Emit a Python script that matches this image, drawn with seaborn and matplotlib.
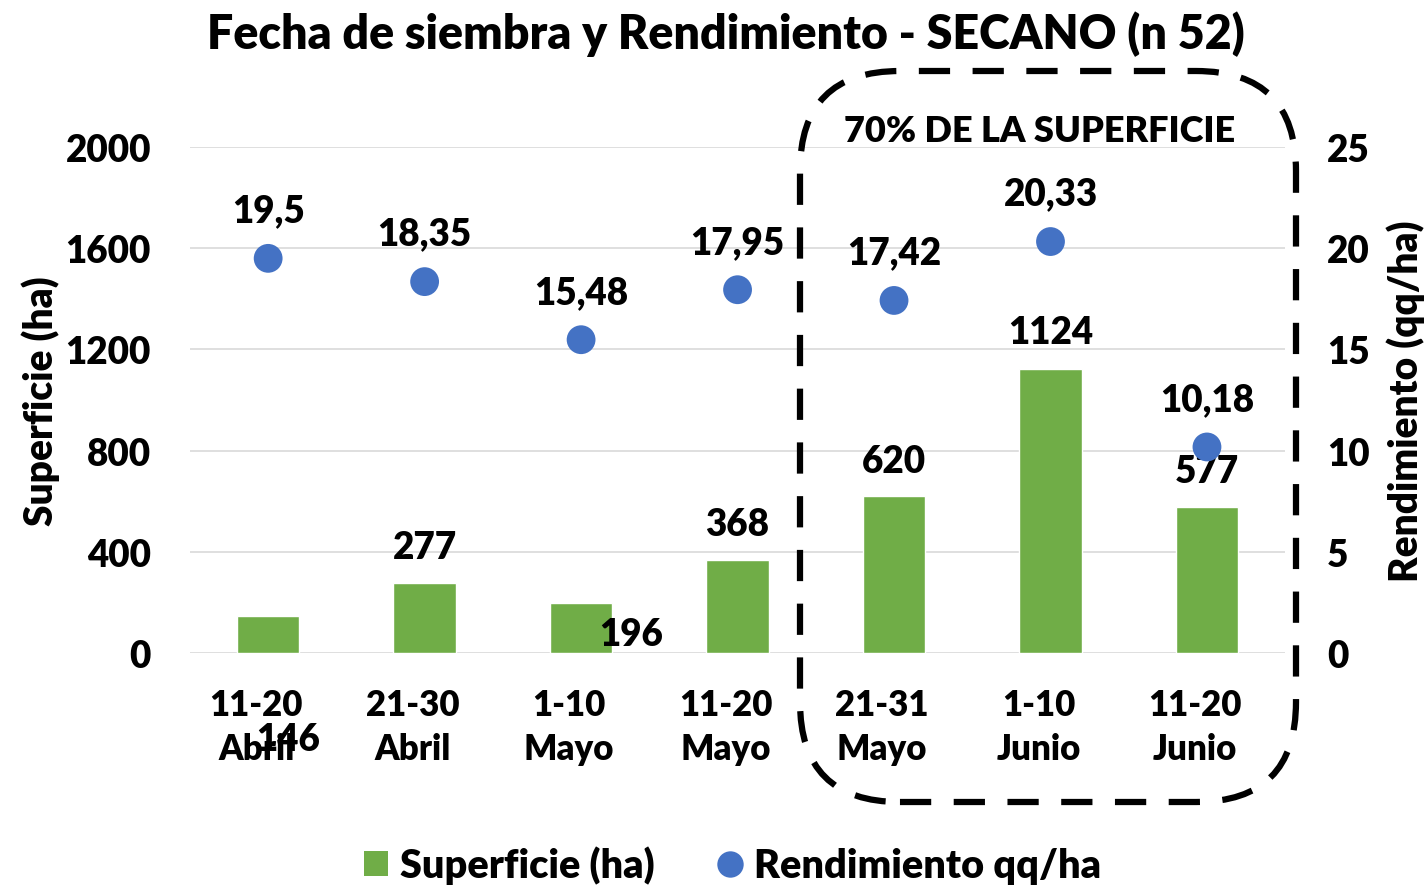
import numpy as np
import pandas as pd
import matplotlib.pyplot as plt
import seaborn as sns
from matplotlib.patches import FancyBboxPatch, Patch
from matplotlib.lines import Line2D
from matplotlib.transforms import ScaledTranslation

# ================== datos ==================
fechas = ["11-20\nAbril", "21-30\nAbril", "1-10\nMayo", "11-20\nMayo",
          "21-31\nMayo", "1-10\nJunio", "11-20\nJunio"]
superficie = [146, 277, 196, 368, 620, 1124, 577]
rendimiento = [19.5, 18.35, 15.48, 17.95, 17.42, 20.33, 10.18]
ticks_sup = [0, 400, 800, 1200, 1600, 2000]
ticks_rend = [0, 5, 10, 15, 20, 25]

VERDE = "#70AD47"
AZUL = "#4472C4"
PESO = 'heavy'
FS_NUM = 26.5

# desplazamientos de etiquetas de barras (px) tal como quedaron en Excel
off_barras = [(20, -123), (0, 36), (50, -31), (0, 36), (0, 35), (0, 37), (0, 36)]

sns.set_theme(style="white")
plt.rcParams['font.family'] = ['Lato', 'DejaVu Sans']
plt.rcParams['font.weight'] = PESO
plt.rcParams['text.color'] = 'black'
plt.rcParams['axes.labelcolor'] = 'black'
plt.rcParams['xtick.color'] = 'black'
plt.rcParams['ytick.color'] = 'black'

df = pd.DataFrame({'fecha': fechas, 'sup': superficie, 'rend': rendimiento})

fig = plt.figure(figsize=(14.28, 8.87), dpi=100)
ax = fig.add_axes([0.133, 0.2627, 0.767, 0.5704])

sns.barplot(data=df, x='fecha', y='sup', color=VERDE, width=0.4,
            saturation=1, ax=ax, zorder=3)
ax.set_ylim(0, 2000)
ax.set_xlim(-0.5, 6.5)
ax.set_yticks(ticks_sup)
ax.set_yticklabels([str(t) for t in ticks_sup])
ax.grid(axis='y', color='#D9D9D9', linewidth=1.2, zorder=0)
ax.set_axisbelow(True)
for s in ax.spines.values():
    s.set_visible(False)
ax.tick_params(axis='x', length=0, labelsize=25, pad=25)
ax.tick_params(axis='y', length=0, labelsize=FS_NUM, pad=28)
for lbl in ax.get_xticklabels():
    lbl.set_linespacing(1.4)
    lbl.set_fontweight(PESO)
    lbl.set_transform(lbl.get_transform() + ScaledTranslation(-12 / 100, 0, fig.dpi_scale_trans))
for lbl in ax.get_yticklabels():
    lbl.set_fontweight(PESO)
ax.set_xlabel('')
ax.set_ylabel('Superficie (ha)', fontsize=28, fontweight=PESO, labelpad=4)

k = 0.72  # px -> pt
for i, (v, (dx, dy)) in enumerate(zip(superficie, off_barras)):
    ax.annotate(str(v), (i, v), xytext=(dx * k, dy * k), textcoords='offset points',
                ha='center', va='center', fontsize=FS_NUM, fontweight=PESO, zorder=5)

ax2 = ax.twinx()
sns.scatterplot(x=np.arange(len(rendimiento)), y=rendimiento, ax=ax2, color=AZUL,
                s=430, edgecolor='none', zorder=4)
ax2.set_ylim(0, 25)
ax2.set_yticks(ticks_rend)
ax2.set_yticklabels([str(t) for t in ticks_rend])
for s in ax2.spines.values():
    s.set_visible(False)
ax2.tick_params(axis='y', length=0, labelsize=FS_NUM, pad=30)
for lbl in ax2.get_yticklabels():
    lbl.set_fontweight(PESO)
ax2.set_ylabel('Rendimiento (qq/ha)', fontsize=28, fontweight=PESO, labelpad=12)
for i, v in enumerate(rendimiento):
    txt = f"{v:g}".replace('.', ',')
    ax2.annotate(txt, (i, v), xytext=(0, 48 * k), textcoords='offset points',
                 ha='center', va='center', fontsize=FS_NUM, fontweight=PESO)

fig.suptitle('Fecha de siembra y Rendimiento - SECANO (n 52)', fontsize=33.5,
             fontweight=PESO, y=0.962, va='center', x=0.508)

# recuadro punteado
caja = FancyBboxPatch((800 / 1428, 1 - 803 / 887), 496 / 1428, 731 / 887,
                      boxstyle="round,pad=0,rounding_size=0.07",
                      transform=fig.transFigure, fill=False, edgecolor='black',
                      linewidth=4.5, linestyle=(0, (5, 3.6)), mutation_aspect=1428 / 887)
fig.patches.append(caja)
fig.text(1040 / 1428, 1 - 132 / 887, '70% DE LA SUPERFICIE', ha='center', va='center',
         fontsize=26, fontweight=PESO)

handles = [Patch(facecolor=VERDE, edgecolor='none', label='Superficie (ha)'),
           Line2D([], [], marker='o', color='none', markerfacecolor=AZUL,
                  markeredgecolor='none', markersize=19, label='Rendimiento qq/ha')]
fig.legend(handles=handles, loc='center', bbox_to_anchor=(0.513, 1 - 866 / 887),
           ncol=2, frameon=False, handlelength=0.6, handleheight=0.6,
           columnspacing=1.6, handletextpad=0.3, prop={'weight': PESO, 'size': 28.5})

fig.savefig('out.png', dpi=100)
